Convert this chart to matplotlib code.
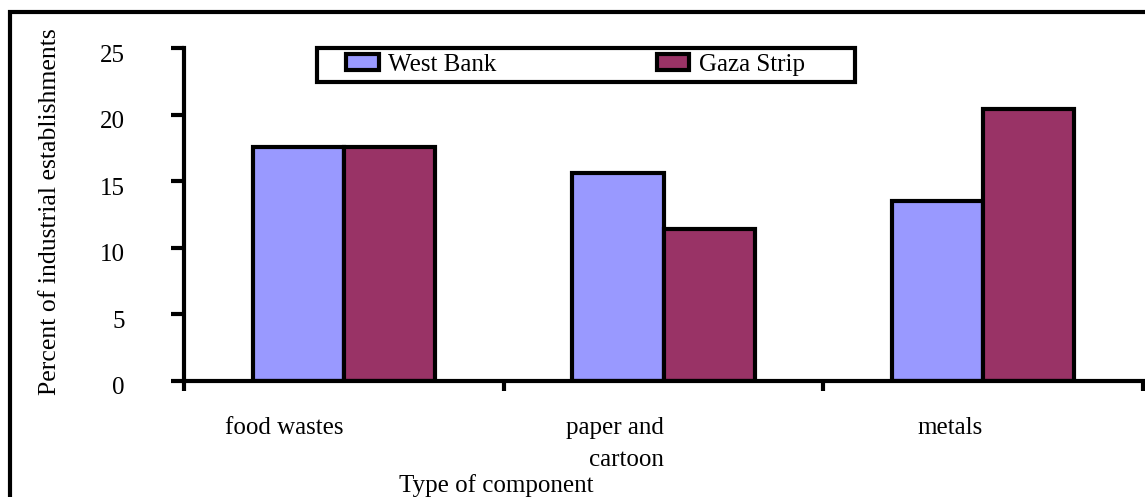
import matplotlib
matplotlib.use('Agg')
import matplotlib.pyplot as plt
from matplotlib.patches import Rectangle
from matplotlib.ticker import FixedLocator
from matplotlib.transforms import ScaledTranslation
import numpy as np

plt.rcParams['font.family'] = ['Liberation Serif', 'DejaVu Serif']

# Data
categories = ['food wastes', 'paper and\ncartoon', 'metals']
series = ['West Bank', 'Gaza Strip']
west_bank = [17.6, 15.6, 13.5]
gaza_strip = [17.6, 11.4, 20.4]
colors = ['#9999FF', '#993366']
yticks = [0, 5, 10, 15, 20, 25]

W, H = 1145, 497
fig = plt.figure(figsize=(W / 100, H / 100), dpi=100)
ax = fig.add_axes([184 / W, 1 - 381 / H, (1143 - 184) / W, (381 - 48) / H])

x = np.arange(len(categories))
width = 0.285
lw = 3
b1 = ax.bar(x - width / 2, west_bank, width, color=colors[0],
            edgecolor='black', linewidth=lw, label=series[0])
b2 = ax.bar(x + width / 2, gaza_strip, width, color=colors[1],
            edgecolor='black', linewidth=lw, label=series[1])

ax.set_xlim(-0.5, len(categories) - 0.5)
ax.set_ylim(0, 25)
for side in ['top', 'right']:
    ax.spines[side].set_visible(False)
for side in ['left', 'bottom']:
    ax.spines[side].set_linewidth(lw)

# y axis (labels sit a little below their ticks in the original)
ax.set_yticks(yticks)
ax.tick_params(axis='y', direction='out', length=9.5, width=lw,
               pad=33, labelsize=18)
shift = ScaledTranslation(0, -5 / 100, fig.dpi_scale_trans)
for lab in ax.get_yticklabels():
    lab.set_transform(lab.get_transform() + shift)

# x axis: labels at category centres, tick marks at the boundaries
ax.set_xticks(x)
ax.set_xticklabels(categories, ha='right', linespacing=1.6)
ax.tick_params(axis='x', which='major', length=0, pad=26, labelsize=18)
ax.xaxis.set_minor_locator(FixedLocator(np.arange(len(categories) + 1) - 0.5))
ax.tick_params(axis='x', which='minor', direction='out', length=7, width=lw)

ax.set_xlabel('Type of component', fontsize=18, va='top')
ax.xaxis.set_label_coords((496 - 184) / (1143 - 184), (381 - 474) / (381 - 48))

fig.text(50 / W, 1 - 212 / H, 'Percent of industrial establishments',
         rotation=90, ha='center', va='center', fontsize=18.5)

# legend (frame drawn separately so it can be wider than its contents)
ax.legend(handles=[b1, b2], ncol=2, frameon=False, fontsize=18,
          loc='center left', bbox_to_anchor=(346 / W, 1 - 65 / H),
          bbox_transform=fig.transFigure, borderpad=0, borderaxespad=0,
          handlelength=1.3, handleheight=0.6, handletextpad=0.4,
          columnspacing=6.4)
fig.add_artist(Rectangle((317 / W, 1 - 82 / H), 538 / W, 34 / H,
                         transform=fig.transFigure, fill=False,
                         edgecolor='black', linewidth=lw))

# outer border of the chart area (runs off the right and bottom)
fig.add_artist(Rectangle((9.5 / W, -0.1), 1.2, 1.1 - 12 / H,
                         transform=fig.transFigure, fill=False,
                         edgecolor='black', linewidth=lw, clip_on=False))

fig.savefig('out.png', dpi=100)
